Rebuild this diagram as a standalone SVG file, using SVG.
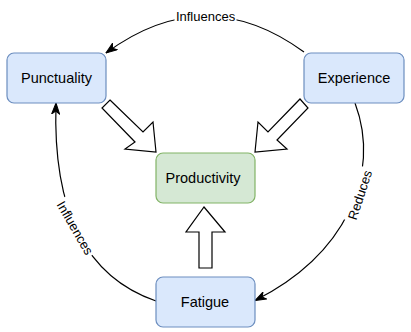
<svg xmlns="http://www.w3.org/2000/svg" width="411" height="332" viewBox="0 0 411 332">
<style>
.node rect{stroke-width:1.2}
.blue rect{fill:#dae8fc;stroke:#6c8ebf}
.green rect{fill:#d5e8d4;stroke:#82b366}
.node text{font-family:"Liberation Sans",Arial,sans-serif;font-size:14.5px;fill:#000;text-anchor:middle}
.edge{fill:none;stroke:#000;stroke-width:1.2}
.block{fill:#fff;stroke:#000;stroke-width:1.2;stroke-linejoin:miter}
.lbl{font-family:"Liberation Sans",Arial,sans-serif;font-size:13px;fill:#000;text-anchor:middle}
.lblbg{fill:#fff}
</style>
<defs>
<marker id="arr" viewBox="0 0 12 9" refX="11.5" refY="4.5" markerWidth="12" markerHeight="9" markerUnits="userSpaceOnUse" orient="auto">
<path d="M0.5,0.5 L11.5,4.5 L0.5,8.5 L3.5,4.5 Z" fill="#000" stroke="#000" stroke-width="1"/>
</marker>
</defs>
<g id="connectors">
<path class="edge" d="M304,52 Q205,-20 106,53" marker-end="url(#arr)"/>
<path class="edge" d="M355,103 C382,175 345,255 255,300.5" marker-end="url(#arr)"/>
<path class="edge" d="M156,301 C95,280 52,225 56,103" marker-end="url(#arr)"/>
<polygon class="block" points="110,100 143,132 153,122 156,152 125,149 135,142 102,108"/>
<polygon class="block" points="300,99 308,108 277,140 287,149 255,152 258,122 268,132"/>
<polygon class="block" points="204,207 225,232 212,232 212,268 199,268 199,232 186,232"/>
<g transform="translate(205.5,16) ">
<rect class="lblbg" x="-31" y="-8" width="62" height="15"/>
<text class="lbl" y="4.5">Influences</text>
</g>
<g transform="translate(75,228) rotate(60)">
<rect class="lblbg" x="-32" y="-8" width="64" height="15"/>
<text class="lbl" y="4.5">Influences</text>
</g>
<g transform="translate(360,195) rotate(-72)">
<rect class="lblbg" x="-28" y="-8" width="56" height="15"/>
<text class="lbl" y="4.5">Reduces</text>
</g>
</g>
<g id="punctuality" class="node blue">
<rect x="7" y="53" width="99" height="50" rx="7"/>
<text x="56.5" y="83">Punctuality</text>
</g>
<g id="experience" class="node blue">
<rect x="304" y="53" width="100" height="50" rx="7"/>
<text x="354" y="83">Experience</text>
</g>
<g id="productivity" class="node green">
<rect x="156" y="153" width="99" height="50" rx="7"/>
<text x="203" y="183">Productivity</text>
</g>
<g id="fatigue" class="node blue">
<rect x="156" y="277" width="99" height="50" rx="7"/>
<text x="205" y="306.5">Fatigue</text>
</g>
</svg>
